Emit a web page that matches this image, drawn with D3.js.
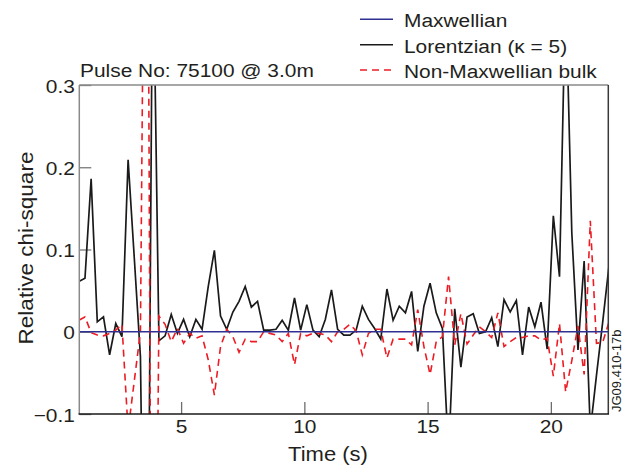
<!DOCTYPE html>
<html>
<head>
<meta charset="utf-8">
<script src="https://cdn.jsdelivr.net/npm/d3@7"></script>
<style>
  html, body { margin: 0; padding: 0; background: #fff; }
  svg { display: block; font-family: "Liberation Sans", Arial, Helvetica, sans-serif; }
</style>
</head>
<body>
<svg id="chart" width="629" height="469"></svg>
<script>
// Sample times (s)
const times = [
  0.85, 1.1, 1.35, 1.6, 1.85, 2.1, 2.35, 2.6, 2.85, 3.1,
  3.35, 3.6, 3.85, 4.1, 4.35, 4.6, 4.85, 5.1, 5.35, 5.6,
  5.85, 6.1, 6.35, 6.6, 6.85, 7.1, 7.35, 7.6, 7.85, 8.1,
  8.35, 8.6, 8.85, 9.1, 9.35, 9.6, 9.85, 10.1, 10.35, 10.6,
  10.85, 11.1, 11.35, 11.6, 11.85, 12.1, 12.35, 12.6, 12.85, 13.1,
  13.35, 13.6, 13.85, 14.1, 14.35, 14.6, 14.85, 15.1, 15.35, 15.6,
  15.85, 16.1, 16.35, 16.6, 16.85, 17.1, 17.35, 17.6, 17.85, 18.1,
  18.35, 18.6, 18.85, 19.1, 19.35, 19.6, 19.85, 20.1, 20.35, 20.6,
  20.85, 21.1, 21.35, 21.6, 21.85, 22.1, 22.35
];

// Relative chi-square, Lorentzian (kappa = 5) fit
const lorentzian = [
  0.061, 0.065, 0.186, 0.012, 0.018, -0.028, 0.010, -0.006, 0.209, 0.090,
  -0.030, -0.600, 0.500, -0.011, -0.005, 0.021, -0.002, 0.015, -0.006, 0.015,
  0.003, 0.055, 0.099, 0.019, 0.003, 0.024, 0.037, 0.055, 0.030, 0.037,
  0.002, 0.002, 0.003, 0.014, 0.002, 0.041, 0.002, 0.033, 0.002, -0.006,
  0.015, 0.051, 0.003, -0.004, -0.004, 0.002, 0.031, 0.015, 0.004, -0.009,
  0.052, 0.014, 0.031, 0.023, 0.049, -0.024, 0.031, 0.059, 0.023, 0.004,
  -0.150, 0.028, -0.043, 0.018, 0.022, -0.002, 0.000, 0.017, -0.018, 0.039,
  0.024, 0.038, -0.028, 0.030, 0.006, 0.036, -0.021, 0.141, 0.067, 0.420,
  0.120, -0.022, 0.086, -0.120, -0.053, 0.011, 0.078
];

// Relative chi-square, non-Maxwellian bulk fit
const nonMaxwellian = [
  0.014, 0.018, -0.001, -0.004, -0.005, -0.002, 0.002, 0.009, -0.120, -0.060,
  0.000, 0.900, -0.800, 0.019, 0.009, -0.012, 0.004, -0.014, -0.002, -0.008,
  -0.005, -0.034, -0.077, -0.018, 0.003, -0.006, -0.025, -0.009, -0.012, -0.012,
  0.000, -0.002, -0.004, -0.012, -0.002, -0.040, -0.002, -0.005, -0.002, -0.002,
  -0.004, -0.012, 0.000, 0.003, 0.009, 0.001, -0.028, -0.002, 0.003, 0.003,
  -0.032, -0.009, -0.009, -0.009, -0.016, 0.027, -0.018, -0.052, -0.012, -0.006,
  0.067, -0.016, 0.022, -0.015, -0.004, 0.006, 0.000, -0.007, 0.023, -0.018,
  -0.012, -0.007, -0.007, -0.005, -0.005, -0.010, -0.008, -0.054, 0.010, -0.073,
  -0.035, 0.007, -0.052, 0.135, -0.014, -0.013, 0.011
];

// Maxwellian reference (relative chi-square is zero by definition)
const maxwellianTimes = [0.85, 22.35];
const maxwellian = [0, 0];

const xTicks = [5, 10, 15, 20];
const yTicks = [-0.1, 0, 0.1, 0.2, 0.3];
const yTickLabels = ["\u22120.1", "0", "0.1", "0.2", "0.3"];
const legendLabels = ["Maxwellian", "Lorentzian (\u03ba = 5)", "Non-Maxwellian bulk"];
const seriesColors = ["#2e3192", "#1a1a1a", "#ed1c24"];

const svg = d3.select("#chart");
const L = 79.3, R = 608.3, T = 85, B = 414;
const FS = 19, SX = 1.1;
const textColor = "#231f20";

const x = d3.scaleLinear().domain([0.87, 22.33]).range([L, R]);
const y = d3.scaleLinear().domain([-0.1, 0.3]).range([B, T]);

svg.append("defs").append("clipPath").attr("id", "plotClip")
  .append("rect").attr("x", L).attr("y", T).attr("width", R - L).attr("height", B - T);

// Axes with inward ticks
const gx = svg.append("g")
  .attr("transform", `translate(0,${B})`)
  .call(d3.axisBottom(x).tickValues(xTicks).tickSizeInner(-12).tickSizeOuter(0).tickPadding(6));
gx.attr("font-family", null).attr("font-size", FS);
gx.select(".domain").remove();
gx.selectAll(".tick line").attr("stroke", "#6d6d6d").attr("stroke-width", 1.3);
gx.selectAll(".tick text").attr("fill", textColor).attr("transform", `scale(${SX},1)`);

const gy = svg.append("g")
  .attr("transform", `translate(${L},0)`)
  .call(d3.axisLeft(y).tickValues(yTicks).tickFormat((d, i) => yTickLabels[i])
    .tickSizeInner(-12).tickSizeOuter(0).tickPadding(4));
gy.attr("font-family", null).attr("font-size", FS);
gy.select(".domain").remove();
gy.selectAll(".tick line").attr("stroke", "#7a7a7a").attr("stroke-width", 1.3);
gy.selectAll(".tick text").attr("fill", textColor).attr("dy", "0.38em")
  .attr("transform", `scale(${SX},1)`);

// Series
const line = d3.line().x(d => x(d[0])).y(d => y(d[1]));
const plot = svg.append("g").attr("clip-path", "url(#plotClip)");

plot.append("path").datum(d3.zip(times, lorentzian))
  .attr("d", line).attr("fill", "none")
  .attr("stroke", seriesColors[1]).attr("stroke-width", 1.7).attr("stroke-linejoin", "miter");

plot.append("path").datum(d3.zip(times, nonMaxwellian))
  .attr("d", line).attr("fill", "none")
  .attr("stroke", seriesColors[2]).attr("stroke-width", 1.6).attr("stroke-dasharray", "7,5");

plot.append("path").datum(d3.zip(maxwellianTimes, maxwellian))
  .attr("d", line).attr("fill", "none")
  .attr("stroke", seriesColors[0]).attr("stroke-width", 1.6);

// Frame
const frame = svg.append("g");
frame.append("line").attr("x1", L).attr("x2", R).attr("y1", T).attr("y2", T)
  .attr("stroke", "#8a8a8a").attr("stroke-width", 1.5);
frame.append("line").attr("x1", L).attr("x2", L).attr("y1", T).attr("y2", B)
  .attr("stroke", "#8a8a8a").attr("stroke-width", 1.5);
frame.append("line").attr("x1", R).attr("x2", R).attr("y1", T).attr("y2", B)
  .attr("stroke", "#3a3a3a").attr("stroke-width", 1.5);
frame.append("line").attr("x1", L - 0.75).attr("x2", R + 0.75).attr("y1", B).attr("y2", B)
  .attr("stroke", "#1a1a1a").attr("stroke-width", 1.5);

// Text helper: horizontally widened text
function label(txt, tx, ty, opts = {}) {
  const g = svg.append("g")
    .attr("transform", `translate(${tx},${ty}) rotate(${opts.rotate || 0}) scale(${opts.sx || SX},1)`);
  g.append("text")
    .attr("font-size", opts.size || FS)
    .attr("text-anchor", opts.anchor || "start")
    .attr("fill", opts.fill || textColor)
    .text(txt);
  return g;
}

// Title
label("Pulse No: 75100 @ 3.0m", 80, 77);

// Axis titles
label("Time (s)", 328, 461, { anchor: "middle", size: 20 });
label("Relative chi-square", 33, 248, { anchor: "middle", rotate: -90, size: 20.5 });

// Figure code
label("JG09.410-17b", 620.5, 412, { rotate: -90, size: 13, sx: 1 });

// Legend
legendLabels.forEach((name, i) => {
  const ly = 19.3 + i * 25.4;
  svg.append("line")
    .attr("x1", 360).attr("x2", 393).attr("y1", ly).attr("y2", ly)
    .attr("stroke", seriesColors[i]).attr("stroke-width", 1.5)
    .attr("stroke-dasharray", i === 2 ? "7,5" : null);
  label(name, 404, 27.3 + i * 25.2);
});
</script>
</body>
</html>
